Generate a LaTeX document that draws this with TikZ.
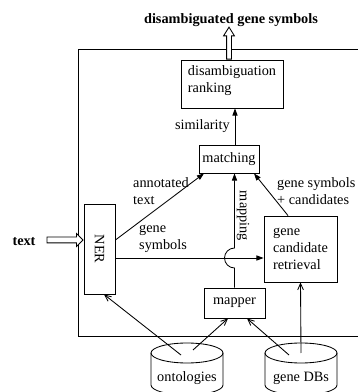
\documentclass[tikz,border=0pt]{standalone}
\usepackage{fontspec}
\setmainfont{Liberation Serif}
\usetikzlibrary{arrows.meta, positioning, shapes.arrows, calc}

\begin{document}
\begin{tikzpicture}[x=0.7pt, y=0.7pt, line width=0.6pt,
    box/.style={draw, align=left, inner sep=0pt},
    tri/.style={-{Triangle[length=5pt, width=3.6pt]}},
    barb/.style={-{Straight Barb[length=4.5pt, width=4pt]}},
    hollow/.style={single arrow, draw, fill=white, inner xsep=0pt}]
        \useasboundingbox (0,0) rectangle (357,392);
        % ---- outer frame ----
        \draw (78,56) rectangle (380,343);

        % ---- blocks ----
        \node[box, minimum width=71.4pt, minimum height=33.6pt, text height=14pt]
              (rank) at (232,308) {disambiguation\\ranking};
        \node[box, minimum width=42pt, minimum height=19.6pt]
              (match) at (229,233) {matching};
        \node[box, minimum width=21.7pt, minimum height=63pt]
              (ner) at (99.5,143) {\rotatebox{-90}{NER}};
        \node[box, minimum width=51.1pt, minimum height=46.2pt]
              (cand) at (300.5,143) {gene\\candidate\\retrieval};
        \node[box, minimum width=42.7pt, minimum height=21pt]
              (mapper) at (234.5,89) {mapper};

        % ---- input and output ----
        \node[font=\bfseries] (outlbl) at (231,372) {disambiguated gene symbols};
        \node[hollow, rotate=90, anchor=tail, minimum height=22.4pt,
              inner ysep=1.4pt, single arrow head extend=2.1pt,
              single arrow tip angle=64]
              (outarrow) at ([xshift=-2.1pt]rank.north) {};
        \node[font=\bfseries] (inlbl) at (24,150) {text};
        \node[hollow, anchor=tip, minimum height=25.2pt,
              inner ysep=1.75pt, single arrow head extend=2.45pt,
              single arrow tip angle=90]
              (inarrow) at ([yshift=6.3pt]ner.west) {};

        % ---- flows into matching ----
        \draw[tri] ([xshift=4.2pt]match.north)
              -- ([xshift=4.2pt]match.north |- rank.south)
              node[midway, left] (simlbl) {similarity};
        \draw[tri] ([yshift=6.3pt]ner.east) -- ([xshift=-17.5pt]match.south);
        \node[align=left, anchor=west] (annotlbl) at (128,201) {annotated\\text};
        \draw[tri] ([yshift=-6.3pt]ner.east) -- ([yshift=-6.3pt]cand.west);
        \node[align=left, anchor=west] (symlbl) at (134,153) {gene\\symbols};
        \draw[tri] ([xshift=-8.75pt]cand.north) -- ([xshift=17.5pt]match.south);
        \node[align=left, anchor=west] (candlbl) at (272,201) {gene symbols\\+ candidates};

        % mapping line hops over the gene symbols line
        \coordinate (hop) at ($(mapper.north |- cand.west)+(0,-9)$);
        \draw[tri] (mapper.north) -- ([yshift=-7pt]hop)
              arc[start angle=-90, end angle=-270, radius=7pt]
              -- (hop |- match.south);
        \node[rotate=-90] (maplbl) at (243,176) {mapping};

        % ---- databases ----
        \coordinate (ontotop) at (187,39);
        \coordinate (dbtop) at (301,39);
        \draw[fill=white] ($(ontotop)+(36,0)$) -- ++(0,-32)
              arc[start angle=0, end angle=-180, x radius=36, y radius=10] -- ++(0,32);
        \draw (ontotop) ellipse [x radius=36, y radius=10];
        \draw[fill=white] ($(dbtop)+(36,0)$) -- ++(0,-32)
              arc[start angle=0, end angle=-180, x radius=36, y radius=10] -- ++(0,32);
        \draw (dbtop) ellipse [x radius=36, y radius=10];
        \node (onto) at (187,14) {ontologies};
        \node (genedb) at (301,14) {gene DBs};

        \coordinate (ontoA) at ($(ontotop)+(-6,-2)$);
        \coordinate (ontoB) at ($(ontotop)+(6,3)$);
        \coordinate (dbA) at ($(dbtop)+(-12,-2)$);
        \draw[barb] (ontoA) -- ([xshift=3.15pt]ner.south);
        \draw[barb] (ontoB) -- ([xshift=-4.55pt]mapper.south);
        \draw[barb] (dbA) -- ([xshift=8.75pt]mapper.south);
        \draw[barb, {Straight Barb[length=4.5pt, width=4pt]}-] (cand.south) -- (dbtop);
      \end{tikzpicture}
\end{document}
